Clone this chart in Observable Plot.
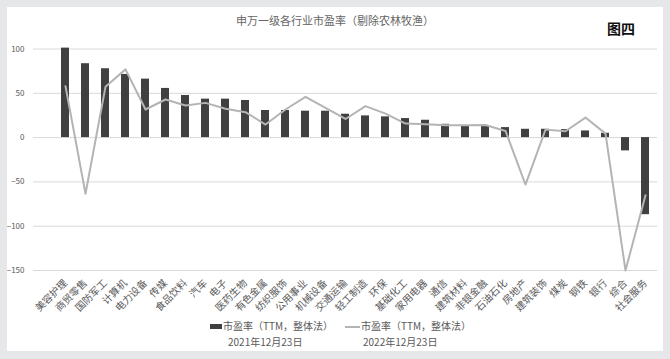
<!DOCTYPE html>
<html>
<head>
<meta charset="utf-8">
<script src="https://cdn.jsdelivr.net/npm/d3@7"></script>
<script src="https://cdn.jsdelivr.net/npm/@observablehq/plot@0.6"></script>
<style>
  html, body { margin: 0; padding: 0; }
  body { width: 670px; height: 359px; background: #e6e7e9; position: relative; overflow: hidden;
         font-family: "Noto Sans CJK SC", "Noto Sans", sans-serif; }
  #card { position: absolute; left: 7px; top: 7px; width: 656px; height: 344px; background: #fff; }
  #chart { position: absolute; left: 0; top: 0; }
  .t { position: absolute; white-space: nowrap; color: #595959; line-height: 1; }
</style>
</head>
<body>
<div id="card"></div>
<div class="t" id="title" style="left:0;width:670px;text-align:center;top:15px;font-size:11px;color:#666;">申万一级各行业市盈率（剔除农林牧渔）</div>
<div class="t" style="left:607px;top:21px;font-size:14px;font-weight:bold;color:#111;">图四</div>
<div id="chart"></div>
<div class="t" style="left:210px;top:324px;width:12px;height:5px;background:#404040;"></div>
<div class="t" style="left:223px;top:321px;font-size:10px;">市盈率（TTM，整体法）</div>
<div class="t" style="left:228px;top:337px;font-size:10px;">2021年12月23日</div>
<div class="t" style="left:345px;top:326px;width:15px;height:1.5px;background:#b4b4b4;"></div>
<div class="t" style="left:361px;top:321px;font-size:10px;">市盈率（TTM，整体法）</div>
<div class="t" style="left:363px;top:337px;font-size:10px;">2022年12月23日</div>
<script>
const categories = ["美容护理","商贸零售","国防军工","计算机","电力设备","传媒","食品饮料","汽车","电子","医药生物",
  "有色金属","纺织服饰","公用事业","机械设备","交通运输","轻工制造","环保","基础化工","家用电器","通信",
  "建筑材料","非银金融","石油石化","房地产","建筑装饰","煤炭","钢铁","银行","综合","社会服务"];
const pe2021 = [101,83.4,77.7,71.3,66,55.5,47.5,43.4,43.4,41.9,
  30.6,30.6,29.8,29.8,26.4,24.5,23.4,21.5,19.6,15,
  13.6,13.6,11.3,9.4,9.4,9,7.5,4.9,-15,-87];
const pe2022 = [58,-63.4,57.4,77,31.7,43,36.2,39.2,32.5,28.7,
  14.7,31.7,46,33.6,21,35.5,27,15.8,15,14,
  14,14.3,7.5,-53,9,7.2,22.6,4.5,-150,-65];
const yTicks = [-150,-100,-50,0,50,100];

const data = categories.map((c, i) => ({c, a: pe2021[i], b: pe2022[i]}));

const chart = Plot.plot({
  width: 670,
  height: 318,
  marginTop: 48.5,
  marginBottom: 48,
  marginLeft: 33,
  marginRight: 13,
  style: {background: "transparent", fontFamily: "'Noto Sans CJK SC', sans-serif"},
  x: {domain: categories, paddingInner: 0.62, paddingOuter: 0.31, insetLeft: 19, label: null},
  y: {domain: [-150, 100], label: null},
  marks: [
    Plot.gridY(yTicks, {stroke: "#d9d9d9", strokeOpacity: 1, strokeWidth: 1}),
    Plot.axisY(yTicks, {tickSize: 0, tickPadding: 9, fontSize: 8, fill: "#595959", label: null}),
    Plot.axisX({tickSize: 0, tickPadding: 11, tickRotate: -45, fontSize: 10, fill: "#595959", label: null}),
    Plot.barY(data, {x: "c", y: "a", fill: "#404040"}),
    Plot.lineY(data, {x: "c", y: "b", stroke: "#b4b4b4", strokeWidth: 2})
  ]
});
document.getElementById("chart").appendChild(chart);
</script>
</body>
</html>
